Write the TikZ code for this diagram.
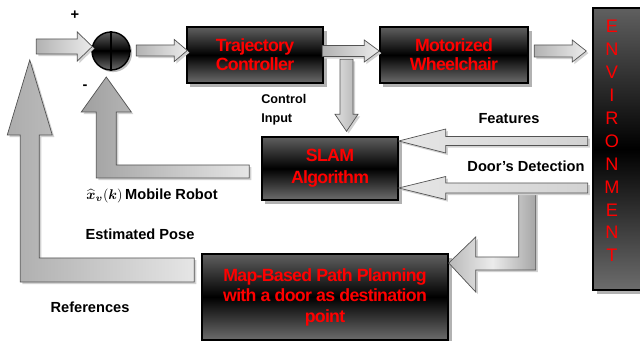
\documentclass[tikz,border=0pt]{standalone}
\usepackage{fontspec}
\setmainfont{Liberation Sans}
\newfontfamily\boxfont[LetterSpace=-4]{Liberation Sans}
\usepackage{amsmath}
\usepackage{bm}
\usetikzlibrary{calc,shadows}

\begin{document}
\begin{tikzpicture}[x=0.025cm,y=-0.025cm]
\tikzstyle{every node}=[inner sep=0pt]
\tikzstyle{blockbox}=[draw=black,line width=1pt,top color=gray!75!black,bottom color=gray!85!black,middle color=black,text=red,align=center,font=\boxfont\bfseries\fontsize{12.6}{14.6}\selectfont,drop shadow={shadow xshift=2.5pt,shadow yshift=-2.5pt,fill=gray!60,opacity=1}]
\tikzstyle{flatarrow}=[draw=gray!65!black,line width=0.5pt,left color=gray!60,right color=gray!15,drop shadow={shadow xshift=1.5pt,shadow yshift=-1.5pt,fill=gray!35,opacity=1}]
\tikzstyle{lbl}=[font=\bfseries\fontsize{10.4}{12}\selectfont]
\tikzstyle{smalllbl}=[font=\bfseries\fontsize{9}{13.5}\selectfont,align=left]
\useasboundingbox (0,0) rectangle (640,341);
\clip (0,0) rectangle (640,341);

% blocks
\node[blockbox,minimum width=3.4cm,minimum height=1.4cm,font=\boxfont\bfseries\fontsize{12.6}{13.5}\selectfont] (traj) at (255,55) {Trajectory\\Controller};
\node[blockbox,minimum width=3.7cm,minimum height=1.4cm,font=\boxfont\bfseries\fontsize{12.6}{13.5}\selectfont] (wheel) at (454,55) {Motorized\\Wheelchair};
\node[blockbox,minimum width=3.4cm,minimum height=1.575cm,font=\boxfont\bfseries\fontsize{12.6}{15.6}\selectfont] (slam) at (330,168.5) {SLAM\\Algorithm};
\node[blockbox,minimum width=6.15cm,minimum height=2.15cm] (planner) at (325,297) {Map-Based Path Planning\\with a door as destination\\point};
\node[blockbox,minimum width=1.7cm,minimum height=7.05cm] (env) at (627,149) {};
\node[text=red,align=center,font=\fontsize{12.9}{16.3}\selectfont] (envlabel) at (612,141) {E\\N\\V\\I\\R\\O\\N\\M\\E\\N\\T};

% summing point
\node[circle,draw=black,line width=1pt,minimum size=0.95cm,top color=gray!75!black,bottom color=gray!85!black,middle color=black,drop shadow={shadow xshift=1.5pt,shadow yshift=-1.5pt,fill=gray!50,opacity=1}] (sum) at (111,51) {};
\draw[line width=1pt] (sum.north) -- (sum.south) (sum.west) -- (sum.east);

% forward path
\path[flatarrow,shift={($(sum.west)+(1,-4.5)$)}] (0,0) -- (-15,-14.5) -- (-15,-7.5) -- (-56,-7.5) -- (-56,7.5) -- (-15,7.5) -- (-15,14.5) -- cycle;
\path[flatarrow,shift={($(traj.west)+(1,-4.5)$)}] (0,0) -- (-13,-11) -- (-13,-5.5) -- (-51,-5.5) -- (-51,5.5) -- (-13,5.5) -- (-13,11) -- cycle;
\path[flatarrow,left color=gray!25,right color=gray!60,shift={($(slam.north)+(16.5,-5)$)}] (0,0) -- (-11.5,-17) -- (-6.5,-17) -- (-6.5,-72) -- (6.5,-72) -- (6.5,-17) -- (11.5,-17) -- cycle;
\path[flatarrow,shift={($(wheel.west)+(0,-4)$)}] (0,0) -- (-15,-11) -- (-15,-5.5) -- (-57,-5.5) -- (-57,5.5) -- (-15,5.5) -- (-15,11) -- cycle;
\path[flatarrow,shift={($(env.west|-wheel.west)+(-6,-4)$)}] (0,0) -- (-14,-11) -- (-14,-6) -- (-52,-6) -- (-52,6) -- (-14,6) -- (-14,11) -- cycle;

% from the environment
\path[flatarrow,left color=gray!55,right color=gray!70,middle color=gray!15,shift={($(planner.east)+(0,-34)$)}] (0,0) -- (27,-26) -- (27,-6) -- (70,-6) -- (70,-70) -- (87,-70) -- (87,7) -- (27,7) -- (27,29) -- cycle;
\path[flatarrow,left color=gray!20,right color=gray!35,shift={($(slam.east)+(0,-27.5)$)}] (0,0) -- (47,-12) -- (47,-4.5) -- (189,-4.5) -- (189,4.5) -- (47,4.5) -- (47,12) -- cycle;
\path[flatarrow,left color=gray!20,right color=gray!35,shift={($(slam.east)+(0,19.5)$)}] (0,0) -- (47,-11.5) -- (47,-5) -- (189,-5) -- (189,5) -- (47,5) -- (47,11.5) -- cycle;

% feedback
\path[flatarrow,left color=gray!75,right color=gray!20,shift={($(slam.west)+(-12,3)$)}] (0,-6.5) -- (-133,-6.5) -- (-133,-59.5) -- (-118,-59.5) -- (-143,-94.5) -- (-168,-59.5) -- (-153,-59.5) -- (-153,6.5) -- (0,6.5) -- cycle;
\path[flatarrow,left color=gray!65,right color=gray!20,shift={($(planner.west)+(-7,-27)$)}] (0,-12) -- (-155,-12) -- (-155,-135) -- (-142,-135) -- (-164.5,-210) -- (-187,-135) -- (-174,-135) -- (-174,12) -- (0,12) -- cycle;

% labels
\node[lbl] (plus) at (75,15) {+};
\node[lbl] (minus) at (85,87) {-};
\node[smalllbl,anchor=west] (ctrlin) at (261,110) {Control\\Input};
\node[lbl] (feat) at (509,118.5) {Features};
\node[lbl] (door) at (526,166) {Door's Detection};
\node[lbl] (robot) at (152,196) {$\widehat{\bm{x}}_{\bm{v}}(\bm{k})$\,Mobile Robot};
\node[lbl] (pose) at (140,234) {Estimated Pose};
\node[lbl] (refs) at (90,307.5) {References};
\end{tikzpicture}
\end{document}
